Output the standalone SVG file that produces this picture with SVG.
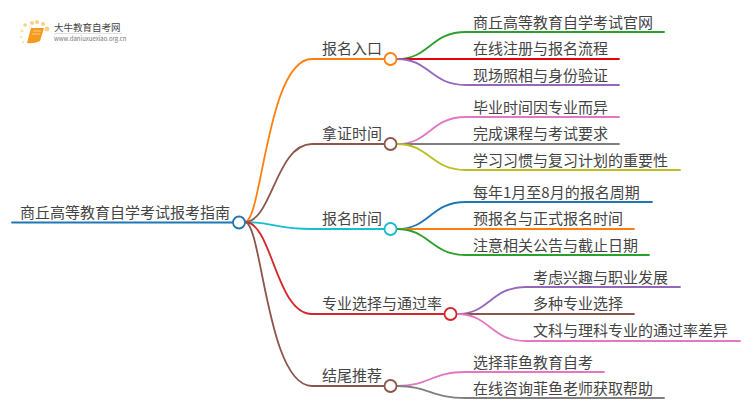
<svg xmlns="http://www.w3.org/2000/svg" width="750" height="410" viewBox="0 0 750 410">
<style>
text{font-family:"Noto Sans CJK SC","Liberation Sans",sans-serif;font-size:15px;fill:#444}
.c path{fill:none;stroke-width:1.8;stroke-linecap:round}
.n{fill:#fff;stroke-width:1.8}
.d{stroke:none}
</style>
<rect width="750" height="410" fill="#fff"/>
<g id="logo">
<g fill="#fbd083"><circle class="d" cx="23" cy="42" r="1.2" opacity=".5"/><circle class="d" cx="21" cy="37" r="1.3" opacity=".6"/><circle class="d" cx="22" cy="31" r="1.5" opacity=".7"/><circle class="d" cx="25" cy="25" r="1.8"/><circle class="d" cx="32" cy="23" r="2"/><circle class="d" cx="37" cy="22" r="2"/><circle class="d" cx="43" cy="24" r="2"/><circle class="d" cx="47" cy="29" r="2.4"/></g>
<path d="M31 28H44L40 41Q34 44 27 43Z" fill="#f39a1f"/>
<path d="M33 31H41M32 34H40" stroke="#fbd083" stroke-width="1" fill="none"/>
<text x="54" y="31" style="font-size:9.5px">大牛教育自考网</text>
<path d="M54 33.500H122" stroke="#ccc" stroke-width=".6" fill="none"/>
<text x="54" y="41" style="font-size:6px;fill:#777">www.daniuxuexiao.org.cn</text>
</g>
<g class="c">
<path d="M12 222.500H233" stroke="#1f77b4"/>
<path d="M245 222C262 222 267 59 312 59H385" stroke="#ff7f0e"/>
<path d="M245 222C272 222 276 144 312 144H385" stroke="#8c564b"/>
<path d="M245 222C272 222 276 229 312 229H385" stroke="#17becf"/>
<path d="M245 222C272 222 276 314 312 314H445" stroke="#d62728"/>
<path d="M245 222C262 222 267 386 312 386H385" stroke="#8c564b"/>
<path d="M397 59C430 59 430 32 466 32H664" stroke="#2ca02c"/>
<path d="M397 59H619" stroke="#e8000b"/>
<path d="M397 59C430 59 430 85 466 85H619" stroke="#9467bd"/>
<path d="M397 144C430 144 430 117 466 117H619" stroke="#e377c2"/>
<path d="M397 144H619" stroke="#7f7f7f"/>
<path d="M397 144C430 144 430 170 466 170H680" stroke="#bcbd22"/>
<path d="M397 229C430 229 430 202 466 202H652" stroke="#1f77b4"/>
<path d="M397 229H634" stroke="#ff7f0e"/>
<path d="M397 229C430 229 430 255 466 255H649" stroke="#2ca02c"/>
<path d="M457 314C490 314 490 287 526 287H680" stroke="#9467bd"/>
<path d="M457 314H634" stroke="#8c564b"/>
<path d="M457 314C490 314 490 341 526 341H740" stroke="#e377c2"/>
<path d="M397 386C430 386 430 372 466 372H604" stroke="#e377c2"/>
<path d="M397 386C430 386 430 398 466 398H664" stroke="#7f7f7f"/>
</g>
<g id="root"><text x="20" y="218">商丘高等教育自学考试报考指南</text><circle class="n" cx="239" cy="222.500" r="6" stroke="#1f77b4"/></g>
<g id="n1"><text x="322" y="54">报名入口</text><circle class="n" cx="390.500" cy="59" r="6" stroke="#ff7f0e"/></g>
<g id="n2"><text x="322" y="139">拿证时间</text><circle class="n" cx="390.500" cy="144" r="6" stroke="#8c564b"/></g>
<g id="n3"><text x="322" y="224">报名时间</text><circle class="n" cx="390.500" cy="229" r="6" stroke="#17becf"/></g>
<g id="n4"><text x="322" y="309">专业选择与通过率</text><circle class="n" cx="450.500" cy="314" r="6" stroke="#d62728"/></g>
<g id="n5"><text x="322" y="381">结尾推荐</text><circle class="n" cx="390.500" cy="386" r="6" stroke="#8c564b"/></g>
<g id="a1"><text x="473" y="28">商丘高等教育自学考试官网</text></g>
<g id="a2"><text x="473" y="54">在线注册与报名流程</text></g>
<g id="a3"><text x="473" y="81">现场照相与身份验证</text></g>
<g id="b1"><text x="473" y="113">毕业时间因专业而异</text></g>
<g id="b2"><text x="473" y="139">完成课程与考试要求</text></g>
<g id="b3"><text x="473" y="166">学习习惯与复习计划的重要性</text></g>
<g id="c1"><text x="473" y="198">每年1月至8月的报名周期</text></g>
<g id="c2"><text x="473" y="224">预报名与正式报名时间</text></g>
<g id="c3"><text x="473" y="251">注意相关公告与截止日期</text></g>
<g id="d1"><text x="533" y="283">考虑兴趣与职业发展</text></g>
<g id="d2"><text x="533" y="309">多种专业选择</text></g>
<g id="d3"><text x="533" y="336">文科与理科专业的通过率差异</text></g>
<g id="e1"><text x="473" y="368">选择菲鱼教育自考</text></g>
<g id="e2"><text x="473" y="394">在线咨询菲鱼老师获取帮助</text></g>
</svg>
